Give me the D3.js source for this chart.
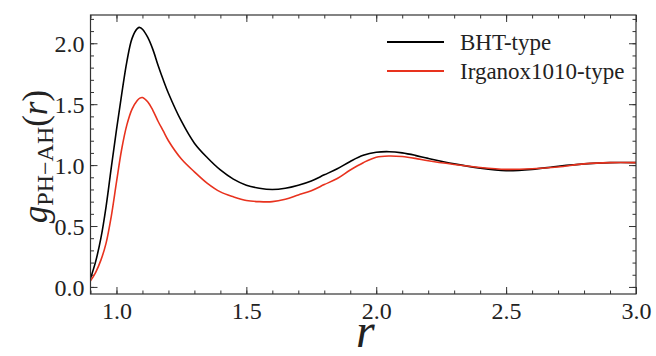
<!DOCTYPE html>
<html><head><meta charset="utf-8">
<script src="https://cdn.jsdelivr.net/npm/d3@7"></script>
</head><body>
<script>
const rValues = [0.9,0.92,0.94,0.96,0.98,1.0,1.02,1.04,1.06,1.08,1.09,1.10,1.12,1.14,1.16,1.18,1.2,1.25,1.3,1.35,1.4,1.45,1.5,1.55,1.6,1.65,1.7,1.75,1.8,1.85,1.9,1.95,2.0,2.05,2.1,2.15,2.2,2.3,2.4,2.5,2.6,2.7,2.8,2.9,3.0];
const bhtValues = [0.07,0.21,0.40,0.66,0.98,1.29,1.58,1.85,2.04,2.12,2.13,2.115,2.05,1.95,1.82,1.70,1.59,1.36,1.18,1.06,0.96,0.885,0.835,0.81,0.80,0.81,0.835,0.87,0.92,0.97,1.03,1.08,1.105,1.11,1.10,1.08,1.055,1.01,0.975,0.955,0.965,0.99,1.01,1.02,1.02];
const irgValues = [0.05,0.12,0.22,0.36,0.58,0.86,1.13,1.33,1.46,1.53,1.55,1.555,1.52,1.45,1.36,1.28,1.20,1.05,0.945,0.85,0.78,0.74,0.71,0.70,0.70,0.72,0.755,0.79,0.84,0.89,0.96,1.02,1.065,1.075,1.07,1.055,1.035,1.005,0.98,0.965,0.97,0.985,1.01,1.02,1.02];
const seriesNames = ["BHT-type","Irganox1010-type"];
const seriesColors = ["#000000","#e8321e"];
const xTicks = [1.0,1.5,2.0,2.5,3.0];
const yTicks = [0.0,0.5,1.0,1.5,2.0];

d3.select("body").style("margin","0").style("background","#fff");
const W=656,H=356;
const m={l:90.5,r:20,t:15,b:62};
const svg=d3.select("body").append("svg").attr("width",W).attr("height",H).style("display","block");
const x=d3.scaleLinear().domain([0.9,3.0]).range([m.l,W-m.r]);
const y=d3.scaleLinear().domain([-0.058,2.232]).range([H-m.b,m.t]);
const font='"Liberation Serif"';
const axCol="#333";

function setFont(sel,size,italic){
  sel.attr("font-family","Liberation Serif").style("font-family",font).attr("font-size",size).style("font-size",size+"px");
  if(italic) sel.attr("font-style","italic").style("font-style","italic");
  return sel;
}

const xMinor=d3.range(9,31).map(d=>d/10);
const yMinor=d3.range(0,23).map(d=>d/10);
function tickAxis(axisFn, scale, ticks, size, transform, fmt){
  const a=axisFn(scale).tickValues(ticks).tickSize(size).tickSizeOuter(0).tickFormat(fmt||"");
  const g=svg.append("g").attr("transform",transform).call(a).attr("font-family","Liberation Serif");
  g.select(".domain").remove();
  g.selectAll("line").attr("stroke",axCol).attr("stroke-width",1);
  return g;
}
const bottom=H-m.b, right=W-m.r;
tickAxis(d3.axisBottom,x,xMinor,-3.5,`translate(0,${bottom})`);
tickAxis(d3.axisTop,x,xMinor,-3.5,`translate(0,${m.t})`);
tickAxis(d3.axisLeft,y,yMinor,-3.5,`translate(${m.l},0)`);
tickAxis(d3.axisRight,y,yMinor,-3.5,`translate(${right},0)`);
const xb=tickAxis(d3.axisBottom,x,xTicks,-7,`translate(0,${bottom})`,d3.format(".1f"));
setFont(xb.selectAll("text").attr("y",8).attr("dy","0.71em").attr("fill","#222"),24);
tickAxis(d3.axisTop,x,xTicks,-7,`translate(0,${m.t})`);
const yl=tickAxis(d3.axisLeft,y,yTicks,-7,`translate(${m.l},0)`,d3.format(".1f"));
setFont(yl.selectAll("text").attr("x",-6).attr("dy","0.34em").attr("fill","#222"),24);
tickAxis(d3.axisRight,y,yTicks,-7,`translate(${right},0)`);

svg.append("clipPath").attr("id","c").append("rect").attr("x",m.l).attr("y",m.t).attr("width",right-m.l).attr("height",bottom-m.t);
const line=d3.line().x((d,i)=>x(rValues[i])).y(d=>y(d)).curve(d3.curveCatmullRom.alpha(0.5));
[bhtValues,irgValues].forEach((vals,k)=>{
  svg.append("path").attr("d",line(vals)).attr("fill","none").attr("stroke",seriesColors[k]).attr("stroke-width",1.6).attr("stroke-linejoin","round").attr("clip-path","url(#c)");
});

svg.append("rect").attr("x",m.l).attr("y",m.t).attr("width",right-m.l).attr("height",bottom-m.t).attr("fill","none").attr("stroke",axCol).attr("stroke-width",1.2);

seriesNames.forEach((n,k)=>{
  const ly=42+k*29;
  svg.append("line").attr("x1",387).attr("x2",444).attr("y1",ly).attr("y2",ly).attr("stroke",seriesColors[k]).attr("stroke-width",1.8);
  setFont(svg.append("text").attr("x",460).attr("y",ly).attr("dy","0.33em").attr("fill","#222").text(n),23);
});

setFont(svg.append("text").attr("x",(m.l+right)/2+2).attr("y",347).attr("text-anchor","middle").attr("fill","#222").text("r"),48,true);
const yt=setFont(svg.append("text").attr("transform",`translate(47,${(m.t+bottom)/2+2}) rotate(-90)`).attr("text-anchor","middle").attr("fill","#222"),35);
yt.append("tspan").attr("font-style","italic").style("font-style","italic").text("g");
yt.append("tspan").attr("font-size",24).style("font-size","24px").attr("dy",6).text("PH\u2212AH");
yt.append("tspan").attr("dy",-6).text("(");
yt.append("tspan").attr("font-style","italic").style("font-style","italic").text("r");
yt.append("tspan").text(")");
</script>
</body></html>
